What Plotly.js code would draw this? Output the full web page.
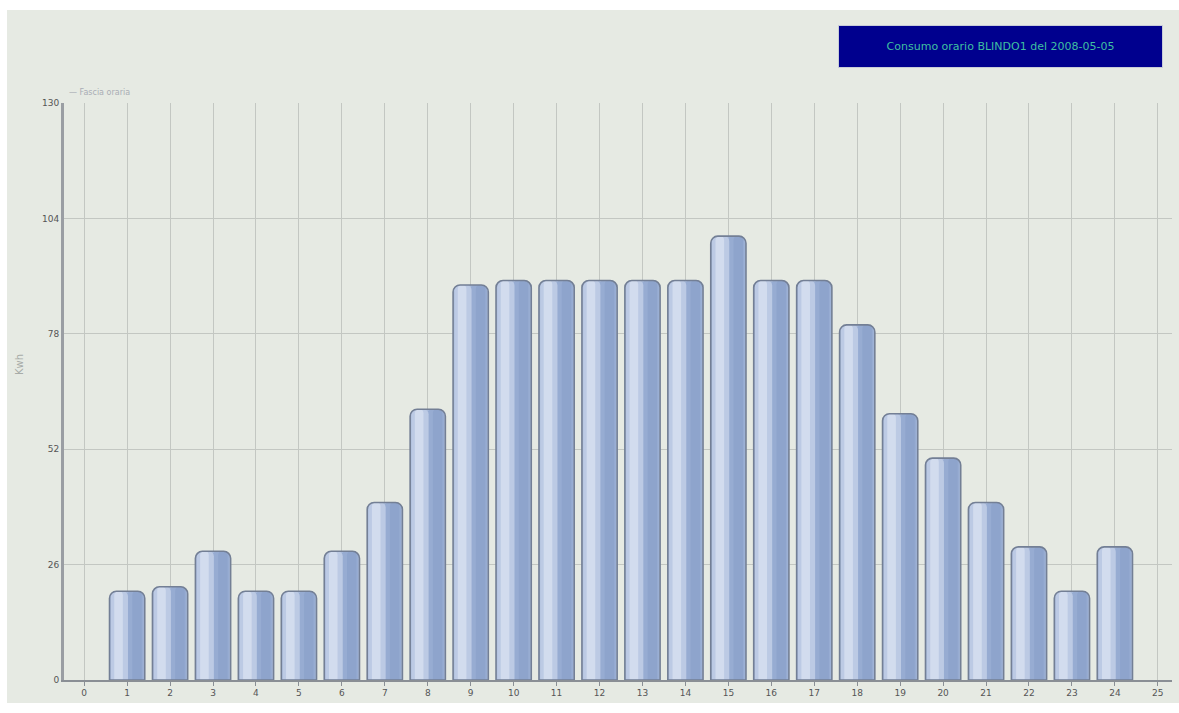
<!DOCTYPE html>
<html>
<head>
<meta charset="utf-8">
<script src="https://cdn.plot.ly/plotly-3.0.1.min.js"></script>
<style>
  html, body { margin: 0; padding: 0; background: #ffffff; width: 1179px; height: 713px; overflow: hidden; }
  #chart { position: absolute; left: 7px; top: 10px; width: 1172px; height: 693px; }
</style>
</head>
<body>
<div id="chart"></div>
<script>
// Hours of the day (categories on the x axis)
const hours = [1, 2, 3, 4, 5, 6, 7, 8, 9, 10, 11, 12, 13, 14, 15, 16, 17, 18, 19, 20, 21, 22, 23, 24];
// Hourly consumption (kWh)
const kwh = [20, 21, 29, 20, 20, 29, 40, 61, 89, 90, 90, 90, 90, 90, 100, 90, 90, 80, 60, 50, 40, 30, 20, 30];
// Tick values / labels
const xTicks = [0, 1, 2, 3, 4, 5, 6, 7, 8, 9, 10, 11, 12, 13, 14, 15, 16, 17, 18, 19, 20, 21, 22, 23, 24, 25];
const yTicks = [0, 26, 52, 78, 104, 130];
const chartTitle = "Consumo orario BLINDO1 del 2008-05-05";
const yTitle = "Kwh";
const legendText = "— Fascia oraria";

function layer(width, offset, color, radius) {
  return {
    type: 'bar', x: hours, y: kwh, width: width, offset: offset,
    marker: { color: color, cornerradius: radius, line: { width: 0 } },
    hoverinfo: 'skip', showlegend: false
  };
}

const traces = [
  layer(0.82, -0.41, '#a9bbdb', 7),
  layer(0.40, -0.02, '#97acd2', 5),
  layer(0.22,  0.12, '#8ea4cc', 4),
  layer(0.40, -0.38, '#bccae4', 5),
  layer(0.20, -0.30, '#d2dcee', 4),
  {
    type: 'bar', x: hours, y: kwh, width: 0.82, offset: -0.41,
    marker: { color: 'rgba(0,0,0,0)', cornerradius: 7, line: { width: 1.6, color: '#737f95' } },
    hoverinfo: 'skip', showlegend: false
  }
];

const layout = {
  width: 1172, height: 693,
  margin: { l: 57, r: 7, t: 93, b: 23 },
  paper_bgcolor: '#e6eae3',
  plot_bgcolor: '#e6eae3',
  barmode: 'overlay',
  font: { family: 'DejaVu Sans, sans-serif', size: 9, color: '#555' },
  xaxis: {
    range: [-0.47, 25.33],
    tickvals: xTicks, ticktext: xTicks.map(String),
    showgrid: true, gridcolor: '#c3c7c2', gridwidth: 1,
    zeroline: false,
    showline: true, linecolor: '#8a8f95', linewidth: 1.5,
    ticks: 'outside', ticklen: 4, tickcolor: '#8a8f95',
    tickfont: { size: 9, color: '#555' }
  },
  yaxis: {
    range: [0, 130],
    tickvals: yTicks, ticktext: yTicks.map(String),
    showgrid: true, gridcolor: '#c3c7c2', gridwidth: 1,
    zeroline: false,
    showline: true, linecolor: '#9a9ea3', linewidth: 3,
    ticks: '', ticklen: 0,
    tickfont: { size: 9, color: '#555' }
  },
  annotations: [
    {
      xref: 'paper', yref: 'paper', x: 0.8452, y: 1.0979,
      xanchor: 'center', yanchor: 'middle',
      text: chartTitle, showarrow: false,
      width: 321, height: 39,
      bgcolor: '#00008e', bordercolor: '#c8ccd8', borderwidth: 1,
      font: { family: 'DejaVu Sans, sans-serif', size: 11, color: '#3fbfa0' }
    },
    {
      xref: 'paper', yref: 'paper', x: -0.0397, y: 0.546,
      xanchor: 'center', yanchor: 'middle', textangle: -90,
      text: yTitle, showarrow: false,
      font: { family: 'DejaVu Sans, sans-serif', size: 10, color: '#a8aca8' }
    },
    {
      xref: 'paper', yref: 'paper', x: 0.003, y: 1.018,
      xanchor: 'left', yanchor: 'middle',
      text: legendText, showarrow: false,
      font: { family: 'DejaVu Sans, sans-serif', size: 8, color: '#a9adb5' }
    }
  ]
};

Plotly.newPlot('chart', traces, layout, { displayModeBar: false, staticPlot: true });
</script>
</body>
</html>
